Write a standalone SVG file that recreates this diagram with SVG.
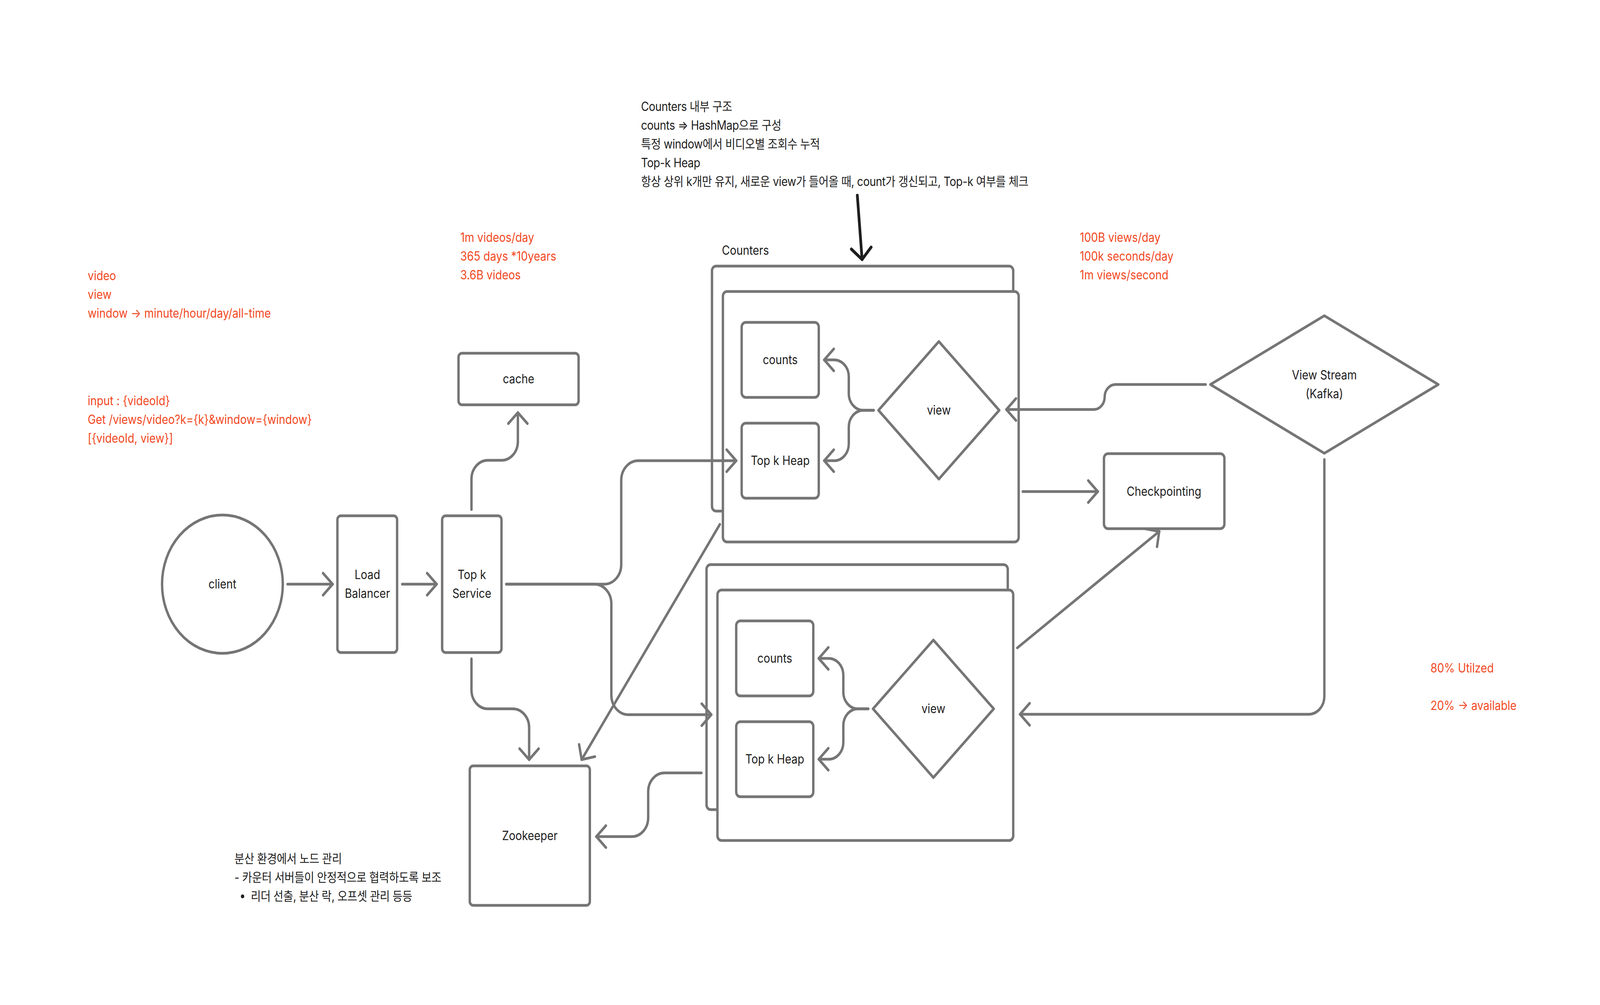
<svg xmlns="http://www.w3.org/2000/svg" width="4690" height="2572" viewBox="0 0 4690 2572" preserveAspectRatio="none">
<style>
svg{width:100vw;height:100vh}
.t{font-family:Inter,"Noto Sans CJK KR","Noto Sans",sans-serif;font-size:32px;fill:#1E1E1E}
.ko{letter-spacing:-0.5px}
.r{fill:#F24822}
.c{text-anchor:middle}
.b{fill:#fff;stroke:#757575;stroke-width:7;stroke-linejoin:round}
.e{fill:none;stroke:#757575;stroke-width:7;stroke-linecap:round;stroke-linejoin:round;marker-end:url(#ah)}
.k{fill:none;stroke:#1E1E1E;stroke-width:8;stroke-linecap:round;marker-end:url(#ak)}
</style>
<defs>
<marker id="ah" markerUnits="userSpaceOnUse" viewBox="-40 -40 50 80" markerWidth="50" markerHeight="80" refX="0" refY="0" orient="auto" overflow="visible">
<path d="M-28,-28 L0,0 L-28,28" fill="none" stroke="#757575" stroke-width="7" stroke-linecap="round" stroke-linejoin="round"/>
</marker>
<marker id="ak" markerUnits="userSpaceOnUse" viewBox="-40 -40 50 80" markerWidth="50" markerHeight="80" refX="0" refY="0" orient="auto" overflow="visible">
<path d="M-29,-29 L0,0 L-29,29" fill="none" stroke="#1E1E1E" stroke-width="8" stroke-linecap="round" stroke-linejoin="round"/>
</marker>
</defs>
<rect width="4690" height="2572" fill="#fff"/>

<g id="notes">
<text class="t r" x="257"><tspan x="257" y="717">video</tspan><tspan x="257" y="765">view</tspan><tspan x="257" y="813">window → minute/hour/day/all-time</tspan></text>
<text class="t r" x="257"><tspan x="257" y="1037">input : {videoId}</tspan><tspan x="257" y="1085">Get /views/video?k={k}&amp;window={window}</tspan><tspan x="257" y="1133">[{videoId, view}]</tspan></text>
<text class="t r" x="1349"><tspan x="1349" y="619">1m videos/day</tspan><tspan x="1349" y="667">365 days *10years</tspan><tspan x="1349" y="715">3.6B videos</tspan></text>
<text class="t r" x="3165"><tspan x="3165" y="619">100B views/day</tspan><tspan x="3165" y="667">100k seconds/day</tspan><tspan x="3165" y="715">1m views/second</tspan></text>
<text class="t r" x="4193"><tspan x="4193" y="1721">80% Utilzed</tspan><tspan x="4193" y="1817">20% → available</tspan></text>
<text class="t ko" x="1879"><tspan x="1879" y="284">Counters 내부 구조</tspan><tspan x="1879" y="332">counts ⇒ HashMap으로 구성</tspan><tspan x="1879" y="380">특정 window에서 비디오별 조회수 누적</tspan><tspan x="1879" y="428">Top-k Heap</tspan><tspan x="1879" y="476">항상 상위 k개만 유지, 새로운 view가 들어올 때, count가 갱신되고, Top-k 여부를 체크</tspan></text>
<text class="t ko" x="687"><tspan x="687" y="2209">분산 환경에서 노드 관리</tspan><tspan x="687" y="2257">- 카운터 서버들이 안정적으로 협력하도록 보조</tspan></text>
<circle cx="711" cy="2294" r="5" fill="#1E1E1E"/>
<text class="t ko" x="735" y="2305">리더 선출, 분산 락, 오프셋 관리 등등</text>
</g>

<g id="client">
<circle class="b" cx="652" cy="1495" r="177"/>
<text class="t c" x="652" y="1506">client</text>
</g>

<g id="load-balancer">
<rect class="b" x="989" y="1320" width="175" height="350" rx="10"/>
<text class="t c" x="1077"><tspan x="1077" y="1482">Load</tspan><tspan x="1077" y="1530">Balancer</tspan></text>
</g>

<g id="topk-service">
<rect class="b" x="1296" y="1320" width="174" height="350" rx="10"/>
<text class="t c" x="1383"><tspan x="1383" y="1482">Top k</tspan><tspan x="1383" y="1530">Service</tspan></text>
</g>

<g id="cache">
<rect class="b" x="1344" y="904" width="352" height="132" rx="10"/>
<text class="t c" x="1520" y="981">cache</text>
</g>

<g id="zookeeper">
<rect class="b" x="1377" y="1960" width="352" height="357" rx="10"/>
<text class="t c" x="1553" y="2150">Zookeeper</text>
</g>

<g id="counters-upper">
<text class="t" x="2116" y="652">Counters</text>
<rect class="b" x="2087" y="681" width="883" height="627" rx="12"/>
<rect class="b" x="2119" y="746" width="867" height="641" rx="12"/>
<g id="counts-upper">
<rect class="b" x="2174" y="825" width="226" height="192" rx="12"/>
<text class="t c" x="2287" y="932">counts</text>
</g>
<g id="heap-upper">
<rect class="b" x="2174" y="1083" width="226" height="192" rx="12"/>
<text class="t c" x="2287" y="1190">Top k Heap</text>
</g>
<g id="view-upper">
<polygon class="b" points="2575,1050 2752,874 2929,1050 2752,1226"/>
<text class="t c" x="2752" y="1061">view</text>
</g>
</g>

<g id="counters-lower">
<rect class="b" x="2071" y="1445" width="883" height="627" rx="12"/>
<rect class="b" x="2103" y="1510" width="867" height="641" rx="12"/>
<g id="counts-lower">
<rect class="b" x="2158" y="1589" width="226" height="192" rx="12"/>
<text class="t c" x="2271" y="1696">counts</text>
</g>
<g id="heap-lower">
<rect class="b" x="2158" y="1847" width="226" height="192" rx="12"/>
<text class="t c" x="2271" y="1954">Top k Heap</text>
</g>
<g id="view-lower">
<polygon class="b" points="2559,1814 2736,1638 2913,1814 2736,1990"/>
<text class="t c" x="2736" y="1825">view</text>
</g>
</g>

<g id="checkpointing">
<rect class="b" x="3236" y="1161" width="353" height="192" rx="12"/>
<text class="t c" x="3412" y="1269">Checkpointing</text>
</g>

<g id="view-stream">
<polygon class="b" points="3548,984 3882,808 4216,984 3882,1160"/>
<text class="t c" x="3882"><tspan x="3882" y="971">View Stream</tspan><tspan x="3882" y="1019">(Kafka)</tspan></text>
</g>

<g id="connectors">
<path class="k" d="M2513,500 L2527,664"/>
<path class="e" d="M843,1495 L975,1495"/>
<path class="e" d="M1179,1495 L1280,1495"/>
<path class="e" d="M1382,1304 L1382,1226 A48,48 0 0 1 1430,1178 L1470,1178 A48,48 0 0 0 1518,1130 L1518,1056"/>
<path class="e" d="M1382,1686 L1382,1766 A48,48 0 0 0 1430,1814 L1503,1814 A48,48 0 0 1 1551,1862 L1551,1944"/>
<path class="e" d="M1484,1495 L1771,1495 A50,50 0 0 0 1821,1445 L1821,1229 A50,50 0 0 1 1871,1179 L2158,1179"/>
<path class="e" d="M1484,1495 L1742,1495 A50,50 0 0 1 1792,1545 L1792,1779 A50,50 0 0 0 1842,1829 L2085,1829"/>
<path class="e" d="M2561,1050 L2531,1050 A43,43 0 0 1 2488,1007 L2488,964 A43,43 0 0 0 2445,921 L2416,921"/>
<path class="e" d="M2561,1050 L2531,1050 A43,43 0 0 0 2488,1093 L2488,1136 A43,43 0 0 1 2445,1179 L2416,1179"/>
<path class="e" d="M2545,1814 L2515,1814 A43,43 0 0 1 2472,1771 L2472,1728 A43,43 0 0 0 2429,1685 L2400,1685"/>
<path class="e" d="M2545,1814 L2515,1814 A43,43 0 0 0 2472,1857 L2472,1900 A43,43 0 0 1 2429,1943 L2400,1943"/>
<path class="e" d="M3534,984 L3270,984 A32,32 0 0 0 3238,1016 A32,32 0 0 1 3206,1048 L2950,1048"/>
<path class="e" d="M3882,1176 L3882,1782 A46,46 0 0 1 3836,1828 L2990,1828"/>
<path class="e" d="M2998,1258 L3218,1258"/>
<path class="e" d="M2982,1658 L3398,1360"/>
<path class="e" d="M2110,1342 L1705,1944"/>
<path class="e" d="M2056,1978 L1948,1978 A48,48 0 0 0 1900,2026 L1900,2093 A48,48 0 0 1 1852,2141 L1748,2141"/>
</g>
</svg>
